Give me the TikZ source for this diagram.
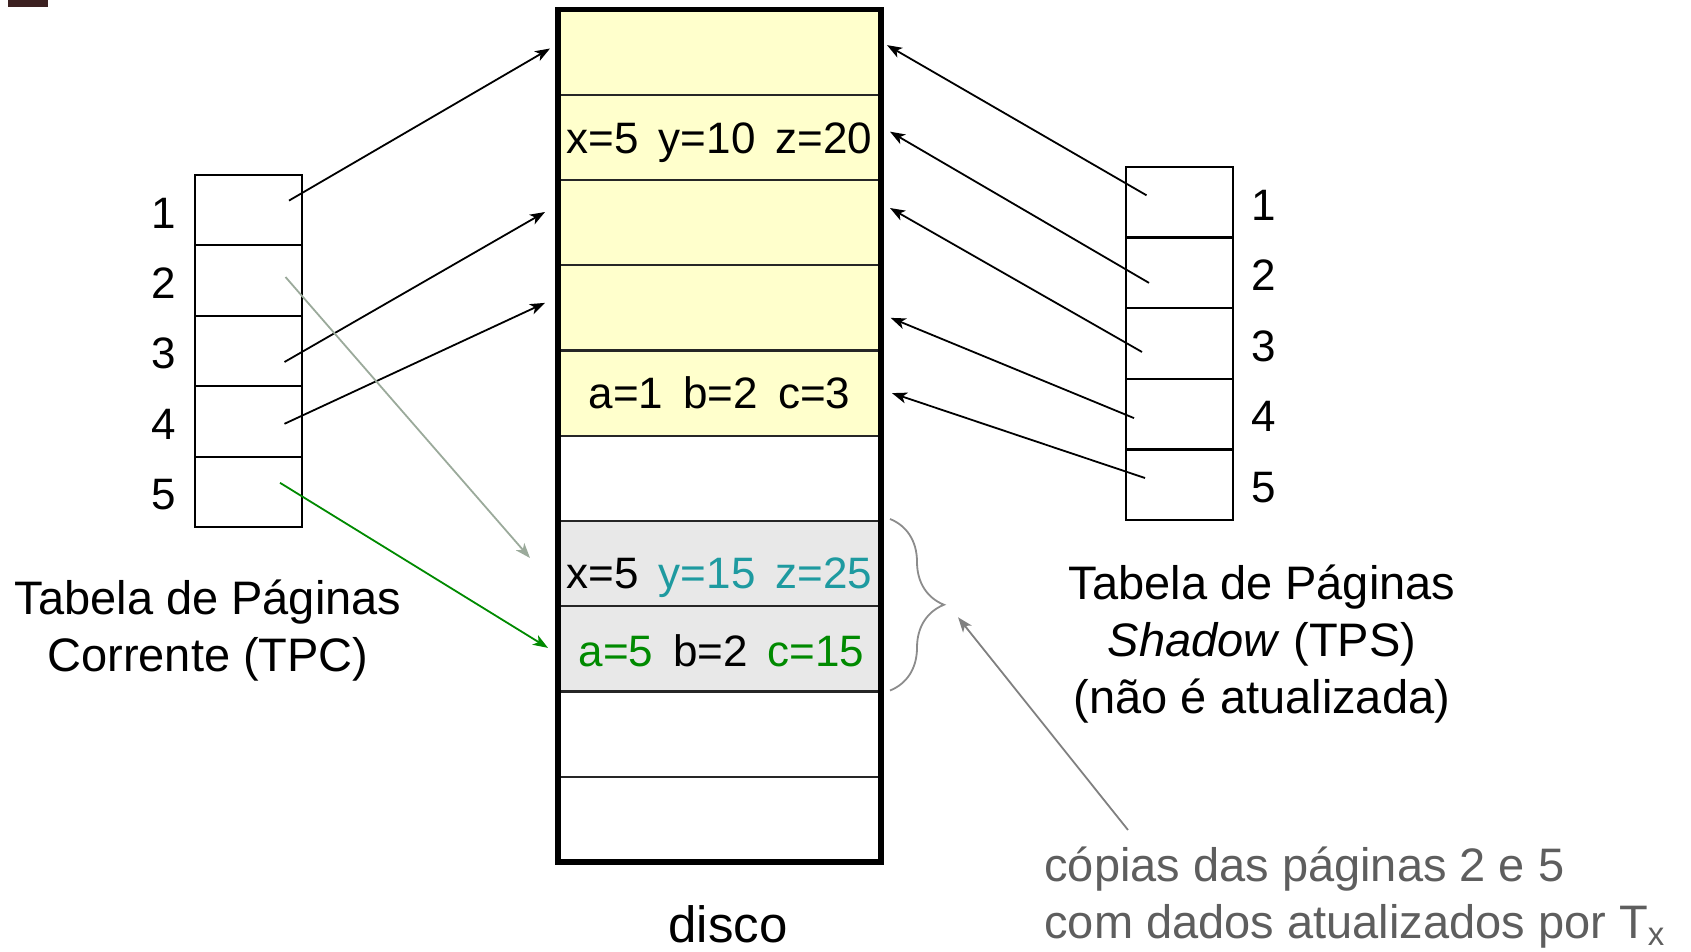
\documentclass[tikz,border=0pt]{standalone}
\usepackage{fontspec}
\setmainfont{Liberation Sans}
\usetikzlibrary{arrows.meta,decorations.pathreplacing}

\definecolor{pageyellow}{HTML}{FFFFCC}
\definecolor{pagegray}{HTML}{E8E8E8}
\definecolor{newteal}{HTML}{1E9AA0}
\definecolor{newgreen}{HTML}{008A00}
\definecolor{oldlink}{HTML}{9BAA9B}
\definecolor{notegray}{HTML}{5E5E5E}
\definecolor{corner}{HTML}{3C2121}

\newcommand{\gap}{\hspace{10pt}}

\tikzset{
  diskrow/.style={draw=black!85, line width=1.1pt, minimum width=161.5pt,
    minimum height=42.625pt, inner sep=0pt, outer sep=0pt},
  tabrow/.style={draw, line width=1pt, minimum width=53.5pt,
    minimum height=35.2pt, inner sep=0pt, outer sep=0pt},
  ptr/.style={-{Stealth[length=7.5pt,width=5.5pt,inset=2pt]}, line width=0.9pt},
  vals/.style={font=\fontsize{22}{26}\selectfont, text height=15.8pt,
    text depth=0pt, inner sep=0pt},
  caption/.style={font=\fontsize{23.5}{28.5}\selectfont, align=center, inner sep=0pt},
}

\begin{document}
\begin{tikzpicture}[x=0.5pt,y=-0.5pt]
  \useasboundingbox (0,0) rectangle (1691,952);
  \fill[corner] (8,0) rectangle (48,7);

  % disco: 10 paginas
  \foreach \i/\c in {1/pageyellow,2/pageyellow,3/pageyellow,4/pageyellow,5/pageyellow,
                     6/white,7/pagegray,8/pagegray,9/white,10/white}
    \node[diskrow, fill=\c] (d\i) at (719.5,{9.5+(\i-0.5)*85.25}) {};
  \draw[line width=2.6pt] (d1.north west) rectangle (d10.south east);

  \node[vals] (v2) at (d2) {x=5\gap y=10\gap z=20};
  \node[vals] (v5) at (d5) {a=1\gap b=2\gap c=3};
  \node[vals] (v7) at ([shift={(0,9)}]d7) {x=5\gap\textcolor{newteal}{y=15\gap z=25}};
  \node[vals] (v8) at ([shift={(2,2)}]d8) {\textcolor{newgreen}{a=5}\gap b=2\gap\textcolor{newgreen}{c=15}};
  \node[font=\fontsize{25.5}{30}\selectfont, inner sep=0pt] (disco) at (728,924) {disco};

  % tabelas TPC e TPS
  \foreach \i in {1,...,5} {
    \node[tabrow] (c\i) at (248.5,{175+(\i-0.5)*70.4}) {};
    \node[vals] (cn\i) at (164,{177+(\i-0.5)*70.4}) {\i};
    \node[tabrow] (s\i) at (1179.5,{167+(\i-0.5)*70.6}) {};
    \node[vals] (sn\i) at (1264,{169+(\i-0.5)*70.6}) {\i};
  }
  \node[caption] (tpc) at (208,630.5) {Tabela de Páginas\\Corrente (TPC)};
  \node[caption] (tps) at (1262,644) {Tabela de Páginas\\\textit{Shadow} (TPS)\\(não é atualizada)};

  % ponteiros da TPC
  \draw[ptr] ([shift={(40.5,-9.6)}]c1.center) -- ([shift={(-8,-3.6)}]d1.west);
  \draw[ptr] ([shift={(36,11)}]c3.center) -- ([shift={(-13,-10.6)}]d3.west);
  \draw[ptr] ([shift={(36,2.4)}]c4.center) -- ([shift={(-13,-5)}]d4.west);
  \draw[ptr, draw=oldlink] ([shift={(37,-3.6)}]c2.center) -- ([shift={(-28,-5.6)}]d7.west);
  \draw[ptr, draw=newgreen] ([shift={(31.5,-9)}]c5.center) -- ([shift={(-10,-1)}]d8.west);

  % ponteiros da TPS
  \draw[ptr] ([shift={(-33,-7)}]s1.center) -- ([shift={(6,-7)}]d1.east);
  \draw[ptr] ([shift={(-30.5,10)}]s2.center) -- ([shift={(9,-5.7)}]d2.east);
  \draw[ptr] ([shift={(-37.5,8.5)}]s3.center) -- ([shift={(9,-14.6)}]d3.east);
  \draw[ptr] ([shift={(-45.5,4)}]s4.center) -- ([shift={(9.7,10)}]d4.east);
  \draw[ptr] ([shift={(-34.5,-6.7)}]s5.center) -- ([shift={(11,0)}]d5.east);

  % copias das paginas 2 e 5
  \draw[gray!90, line width=0.9pt, decorate, decoration={brace, amplitude=27pt, aspect=0.5}]
    ([shift={(9,-2)}]d7.north east) -- ([shift={(9,-1)}]d8.south east);
  \coordinate (bt) at ([shift={(63,0)}]d7.south east);
  \node[caption, align=left, anchor=west, text=notegray] (note) at (1044,897.5)
    {cópias das páginas 2 e 5\\com dados atualizados por T\textsubscript{x}};
  \coordinate (nt) at (1128,830);
  \draw[ptr, draw=gray] (nt) -- ([shift={(14,11)}]bt);
\end{tikzpicture}
\end{document}
